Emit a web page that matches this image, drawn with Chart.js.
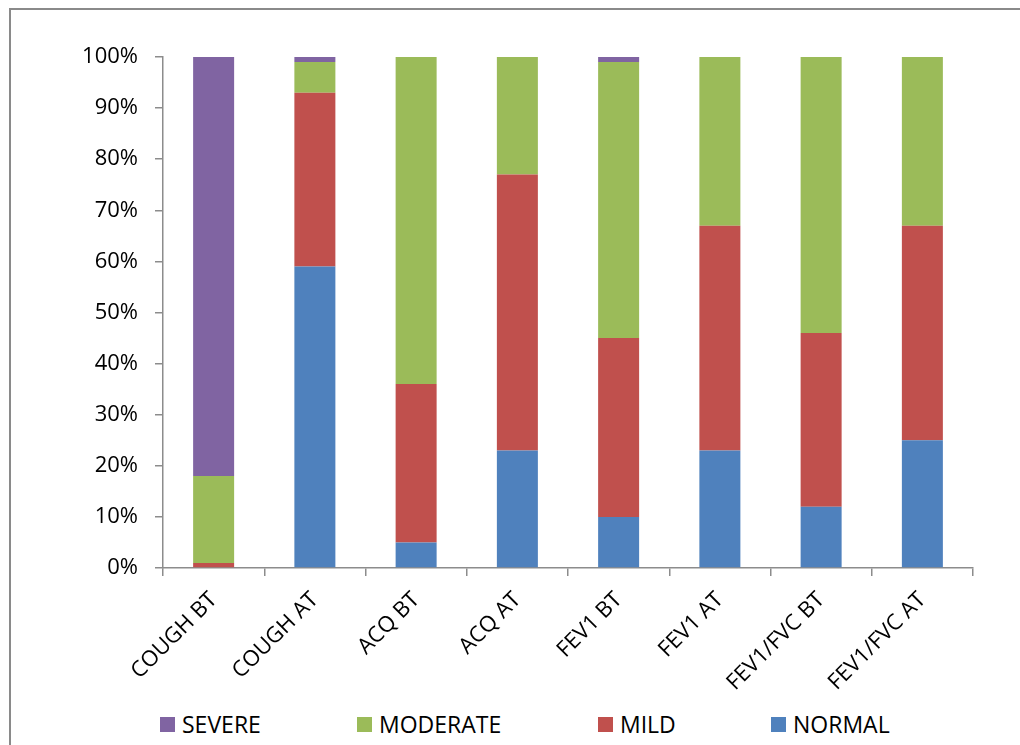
<!DOCTYPE html>
<html>
<head>
<meta charset="utf-8">
<script src="https://cdn.jsdelivr.net/npm/chart.js"></script>
<style>
  body { margin: 0; background: #fff; font-family: "Open Sans", sans-serif; }
  #page { position: relative; width: 1020px; height: 745px; overflow: hidden; }
  #frame { position: absolute; left: 9px; top: 8px; width: 1100px; height: 800px;
           border-left: 2px solid #8a8a8a; border-top: 2px solid #8a8a8a; }
  #wrap { position: absolute; left: 0; top: 0; width: 1020px; height: 700px; }
  #legend { position: absolute; left: 0; top: 700px; width: 1020px; height: 45px; }
  .lg-item { position: absolute; top: 8px; display: flex; align-items: center;
             font-size: 23px; color: #000; white-space: nowrap; }
  .lg-box { width: 15px; height: 15px; margin-right: 7px; }
</style>
</head>
<body>
<div id="page">
  <div id="frame"></div>
  <div id="wrap"><canvas id="stackChart"></canvas></div>
  <div id="legend"></div>
</div>
<script>
const categories = ['COUGH BT', 'COUGH AT', 'ACQ BT', 'ACQ AT', 'FEV1 BT', 'FEV1 AT', 'FEV1/FVC BT', 'FEV1/FVC AT'];
const normal   = [0, 59, 5, 23, 10, 23, 12, 25];
const mild     = [1, 34, 31, 54, 35, 44, 34, 42];
const moderate = [17, 6, 64, 23, 54, 33, 54, 33];
const severe   = [82, 1, 0, 0, 1, 0, 0, 0];
const yTicks   = [0, 10, 20, 30, 40, 50, 60, 70, 80, 90, 100];

// left edge of each legend entry (SEVERE, MODERATE, MILD, NORMAL)
const legendLeft = [160, 357, 598, 771];

const axisColor = '#8c8c8c';
const tickFont = { family: 'Open Sans', size: 22 };

function makeChart() {
    const ctx = document.getElementById('stackChart').getContext('2d');
    return new Chart(ctx, {
        type: 'bar',
        data: {
            labels: categories,
            datasets: [
                { label: 'NORMAL', data: normal, backgroundColor: '#4f81bd' },
                { label: 'MILD', data: mild, backgroundColor: '#c0504d' },
                { label: 'MODERATE', data: moderate, backgroundColor: '#9bbb59' },
                { label: 'SEVERE', data: severe, backgroundColor: '#8064a2' }
            ]
        },
        options: {
            responsive: true,
            maintainAspectRatio: false,
            animation: false,
            datasets: { bar: { barPercentage: 0.405, categoryPercentage: 1.0 } },
            layout: { padding: { top: 57, right: 47, left: 0, bottom: 0 } },
            plugins: { legend: { display: false }, tooltip: { enabled: false } },
            scales: {
                x: {
                    stacked: true,
                    grid: { offset: true, drawOnChartArea: false, drawTicks: true, tickLength: 8, color: axisColor, lineWidth: 1.5 },
                    border: { color: axisColor, width: 1.5 },
                    ticks: { color: '#000', font: tickFont, minRotation: 45, maxRotation: 45, padding: 11 },
                    afterFit: s => { s.height = 132; }
                },
                y: {
                    stacked: true,
                    min: 0,
                    max: 100,
                    afterBuildTicks: s => { s.ticks = yTicks.map(v => ({ value: v })); },
                    grid: { drawOnChartArea: false, drawTicks: true, tickLength: 8, color: axisColor, lineWidth: 1.5 },
                    border: { color: axisColor, width: 1.5 },
                    ticks: { color: '#000', font: tickFont, padding: 17, callback: v => v + '%' },
                    afterFit: s => { s.width = 163; }
                }
            }
        }
    });
}

function buildLegend(chart) {
    const box = document.getElementById('legend');
    const sets = chart.data.datasets.slice().reverse();
    sets.forEach((ds, i) => {
        const item = document.createElement('div');
        item.className = 'lg-item';
        item.style.left = legendLeft[i] + 'px';
        item.innerHTML = `<span class="lg-box" style="background:${ds.backgroundColor}"></span><span>${ds.label}</span>`;
        box.appendChild(item);
    });
}

const chart = makeChart();
buildLegend(chart);
</script>
</body>
</html>
